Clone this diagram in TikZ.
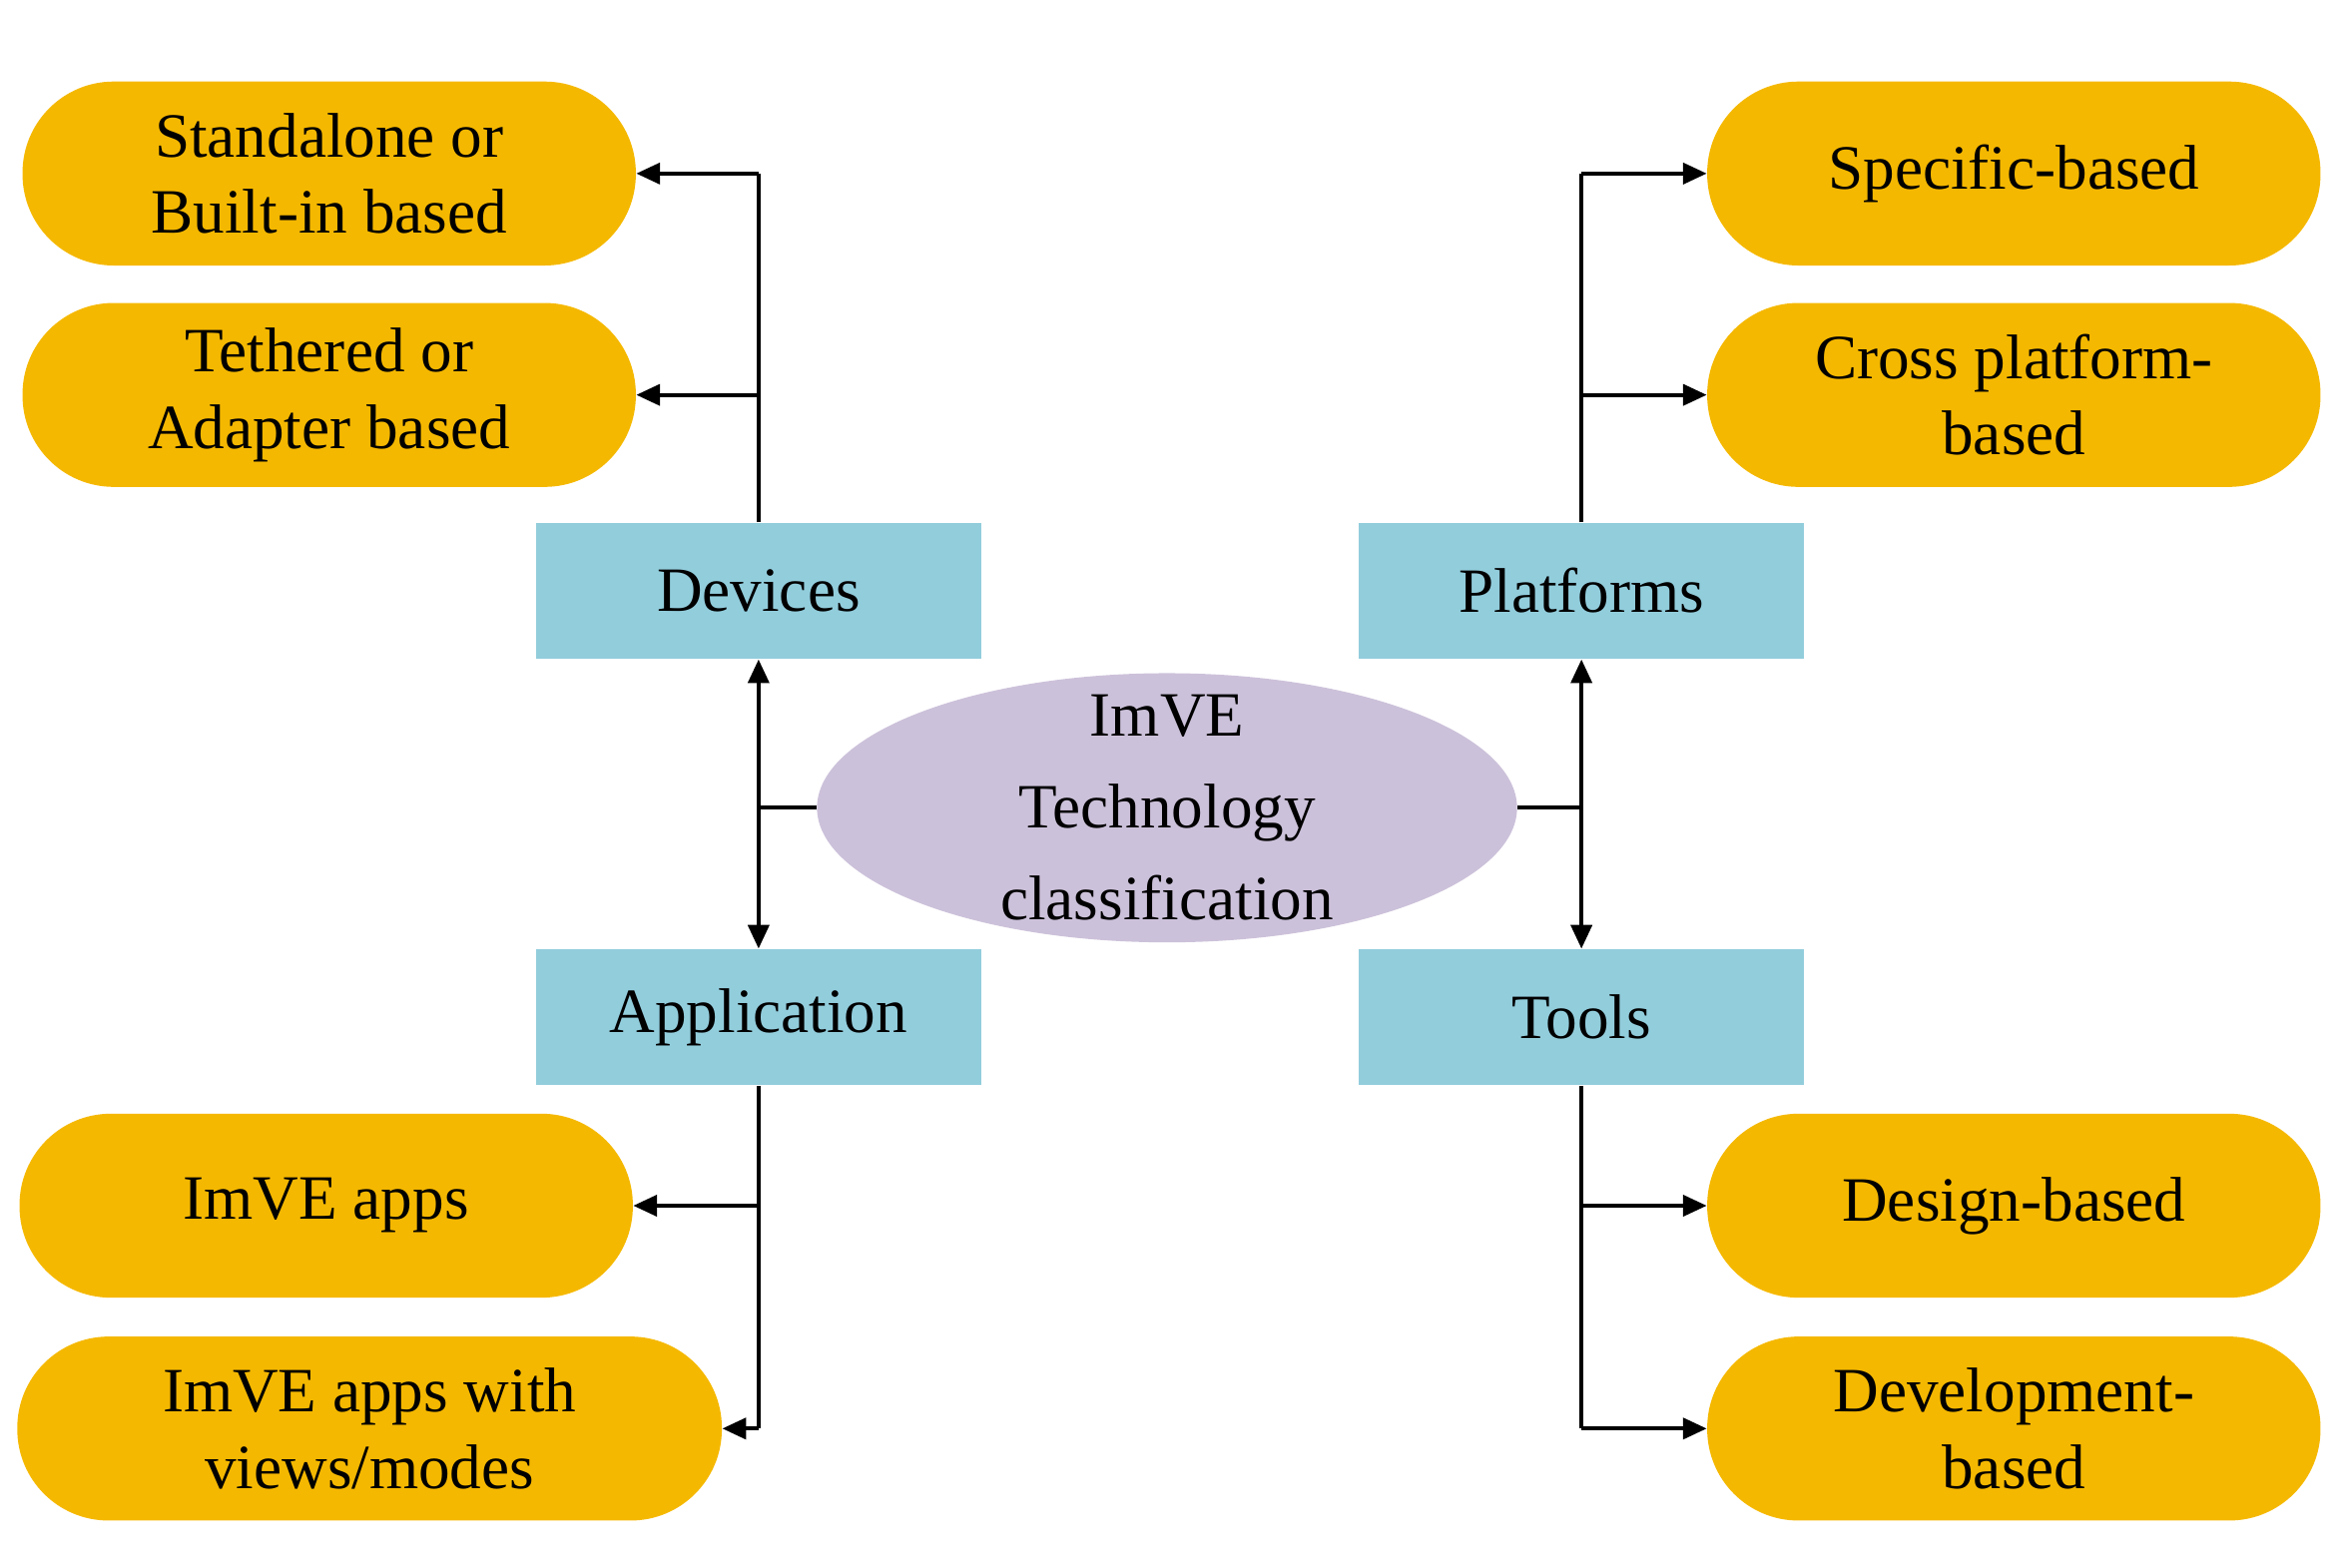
\documentclass[tikz,border=0pt]{standalone}
\usepackage{fontspec}
\setmainfont{Liberation Serif}
\usetikzlibrary{shapes.geometric,arrows.meta}
\definecolor{pill}{HTML}{F5B800}
\definecolor{boxc}{HTML}{92CDDC}
\definecolor{ell}{HTML}{CCC1DA}
\begin{document}
\begin{tikzpicture}[x=0.02cm,y=-0.02cm,
  every node/.style={font=\fontsize{24}{29}\selectfont, align=center, inner sep=0pt},
  pill/.style={fill=pill, rounded corners=1.22cm, minimum height=2.46cm, minimum width=8.2cm},
  box/.style={fill=boxc, minimum width=5.96cm, minimum height=1.82cm},
  arr/.style={-{Triangle[length=9pt,width=8pt]}, line width=1.4pt},
  ln/.style={line width=1.4pt}]
\useasboundingbox (0,0) rectangle (1568,1048);
\node[pill] (s1) at (220,116) {Standalone or\\Built-in based};
\node[pill] (s2) at (220,264) {Tethered or\\Adapter based};
\node[pill] (a1) at (218,806) {ImVE apps};
\node[pill, minimum width=9.42cm] (a2) at (247,955) {ImVE apps with\\views/modes};
\node[pill] (p1) at (1346,116) {Specific-based};
\node[pill] (p2) at (1346,264) {Cross platform-\\based};
\node[pill] (t1) at (1346,806) {Design-based};
\node[pill] (t2) at (1346,955) {Development-\\based};
\node[box] (dev) at (507,395) {Devices};
\node[box] (plat) at (1057,395) {Platforms};
\node[box] (app) at (507,680) {Application};
\node[box] (tools) at (1057,680) {Tools};
\node[ellipse, fill=ell, minimum width=9.36cm, minimum height=3.6cm] (c) at (780,540) {};
\node at (780,540) {ImVE\\[6pt]Technology\\[6pt]classification};
\coordinate (jl) at (507,540);
\coordinate (jr) at (1057,540);
% left
\draw[ln] (c.west) -- (jl);
\draw[arr, {Triangle[length=9pt,width=8pt]}-{Triangle[length=9pt,width=8pt]}] (dev.south) -- (app.north);
\draw[ln] (dev.north) -- (507,116);
\draw[arr] (507,116) -- (s1.east);
\draw[arr] (507,264) -- (s2.east);
\draw[ln] (app.south) -- (507,955);
\draw[arr] (507,806) -- (a1.east);
\draw[arr] (507,955) -- (a2.east);
% right
\draw[ln] (c.east) -- (jr);
\draw[arr, {Triangle[length=9pt,width=8pt]}-{Triangle[length=9pt,width=8pt]}] (plat.south) -- (tools.north);
\draw[ln] (plat.north) -- (1057,116);
\draw[arr] (1057,116) -- (p1.west);
\draw[arr] (1057,264) -- (p2.west);
\draw[ln] (tools.south) -- (1057,955);
\draw[arr] (1057,806) -- (t1.west);
\draw[arr] (1057,955) -- (t2.west);
\end{tikzpicture}
\end{document}
